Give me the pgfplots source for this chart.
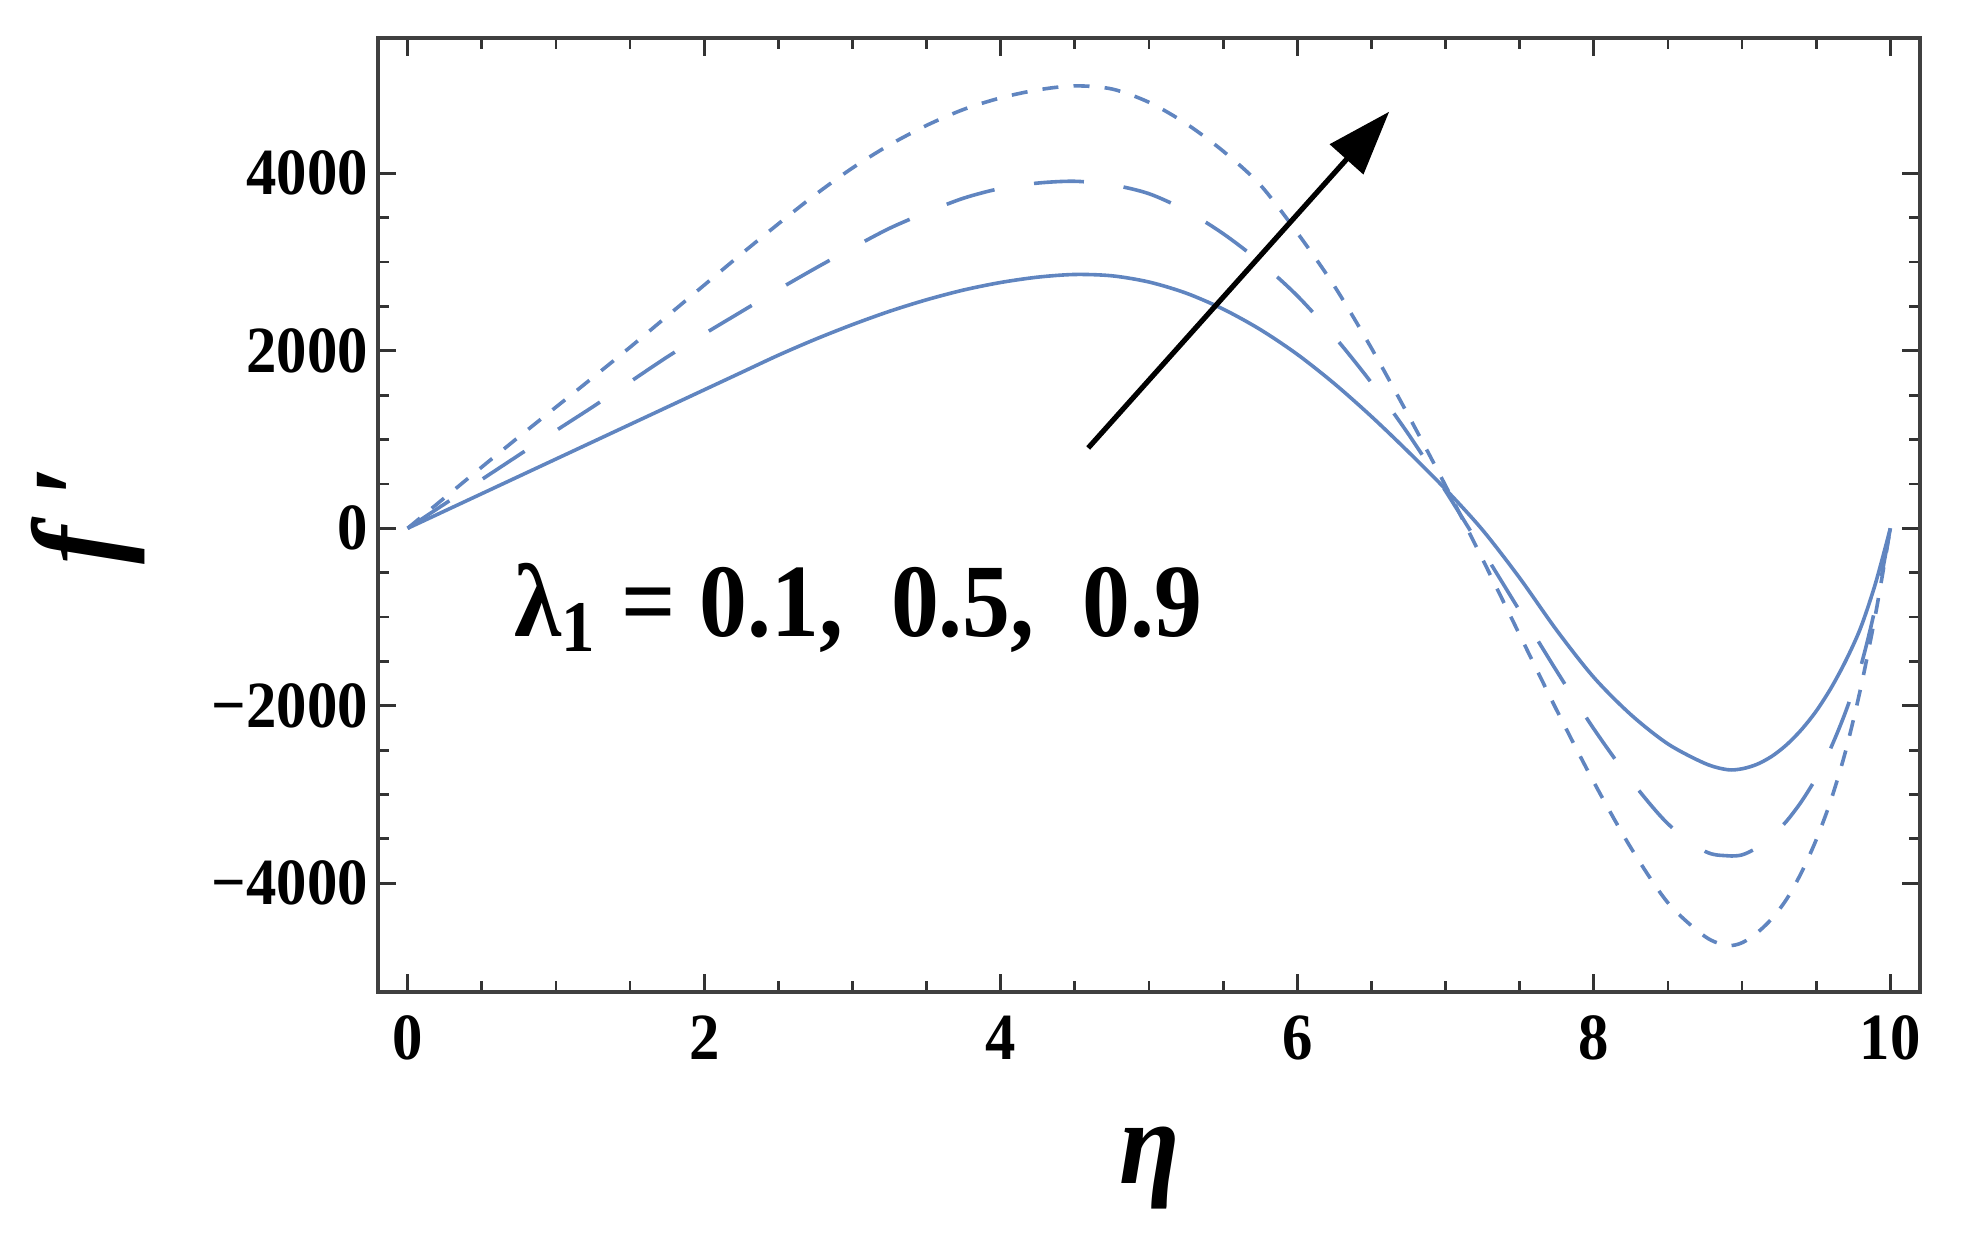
\documentclass[border=0pt]{standalone}
\usepackage{fontspec}
\setmainfont{Liberation Serif}[FakeStretch=0.92]
\usepackage{pgfplots}
\usepackage{pgfplotstable}
\pgfplotsset{compat=1.18}
\usetikzlibrary{arrows.meta}

\definecolor{plotblue}{RGB}{96,133,192}

% lambda_1 = 0.1
\pgfplotstableread{
x y
0 0
0.25 195
0.5 390
0.75 585
1 780
1.25 975
1.5 1170
1.75 1365
2 1560
2.25 1755
2.5 1950
2.75 2130
3 2295
3.25 2445
3.5 2575
3.75 2685
4 2770
4.25 2830
4.5 2860
4.75 2845
5 2775
5.25 2650
5.5 2470
5.75 2240
6 1960
6.25 1630
6.5 1260
6.75 860
7 440
7.25 -20
7.5 -560
7.75 -1150
8 -1680
8.25 -2100
8.5 -2430
8.75 -2650
8.9 -2720
9 -2710
9.1 -2660
9.2 -2570
9.3 -2440
9.4 -2270
9.5 -2060
9.6 -1800
9.7 -1490
9.8 -1120
9.9 -620
10 0
}\lamA

% lambda_1 = 0.5
\pgfplotstableread{
x y
0 0
0.25 275
0.5 550
0.75 825
1 1100
1.25 1370
1.5 1650
1.75 1930
2 2190
2.25 2440
2.5 2690
2.75 2930
3 3160
3.25 3380
3.5 3560
3.75 3720
4 3830
4.25 3890
4.5 3910
4.75 3870
5 3770
5.25 3580
5.5 3320
5.75 3000
6 2620
6.25 2160
6.5 1640
6.75 1060
7 420
7.25 -250
7.5 -930
7.75 -1610
8 -2260
8.25 -2840
8.5 -3330
8.75 -3640
8.9 -3690
9 -3680
9.1 -3600
9.2 -3470
9.3 -3300
9.4 -3080
9.5 -2810
9.6 -2470
9.7 -2060
9.8 -1560
9.9 -880
10 0
}\lamB

% lambda_1 = 0.9
\pgfplotstableread{
x y
0 0
0.25 345
0.5 690
0.75 1030
1 1365
1.25 1700
1.5 2040
1.75 2390
2 2740
2.25 3090
2.5 3430
2.75 3760
3 4060
3.25 4320
3.5 4540
3.75 4720
4 4850
4.25 4940
4.5 4985
4.75 4950
5 4800
5.25 4560
5.5 4250
5.75 3870
6 3330
6.25 2730
6.5 2030
6.75 1270
7 480
7.25 -350
7.5 -1200
7.75 -2050
8 -2860
8.25 -3600
8.5 -4220
8.75 -4600
8.9 -4700
9 -4670
9.1 -4560
9.2 -4400
9.3 -4180
9.4 -3880
9.5 -3510
9.6 -3060
9.7 -2500
9.8 -1800
9.9 -970
10 0
}\lamC

\begin{document}
\begin{tikzpicture}
\begin{axis}[
    at={(0,0)}, anchor=south west,
    scale only axis,
    width=385.5pt, height=238.5pt,
    xmin=-0.2, xmax=10.2,
    ymin=-5225, ymax=5525,
    clip=false,
    xtick={0,2,...,10},
    ytick={-4000,-2000,0,2000,4000},
    yticklabels={−4000,−2000,0,2000,4000},
    minor x tick num=3,
    minor y tick num=3,
    tick align=inside,
    major tick length=4.5pt,
    minor tick length=2.8pt,
    axis line style={line width=1.2pt, draw=black!75},
    tick style={line width=0.7pt, black!80},
    tick label style={font=\bfseries\fontsize{16.5}{18}\selectfont},
    xticklabel style={yshift=-2.4pt},
    yticklabel style={xshift=1pt},
    /pgf/number format/assume math mode=true,
    scaled y ticks=false,
]

    \addplot[plotblue, line width=0.9pt, smooth] table {\lamA};
    \addplot[plotblue, line width=0.9pt, smooth, dash pattern=on 12.5pt off 10pt] table {\lamB};
    \addplot[plotblue, line width=0.9pt, smooth, dash pattern=on 4pt off 3.8pt] table {\lamC};

    \draw[line width=1.3pt, -{Triangle[length=16pt,width=11pt]}]
        (axis cs:4.59,905) -- (axis cs:6.62,4694);

    \node[anchor=base, font=\bfseries\fontsize{26}{28}\selectfont]
        at (axis cs:3.04,-1221) {λ\textsubscript{1} = 0.1,\ \ 0.5,\ \ 0.9};

    \node[rotate=90, font=\bfseries\itshape\fontsize{31}{33}\selectfont]
        at (rel axis cs:-0.188,0.50) {f\hspace{7pt}′};
    \node[font=\bfseries\itshape\fontsize{30}{32}\selectfont]
        at (rel axis cs:0.5007,-0.1845) {η};

\end{axis}
\pgfresetboundingbox
\path[use as bounding box] (-94.5pt,-64pt) rectangle (398.75pt,248pt);
\end{tikzpicture}
\end{document}
